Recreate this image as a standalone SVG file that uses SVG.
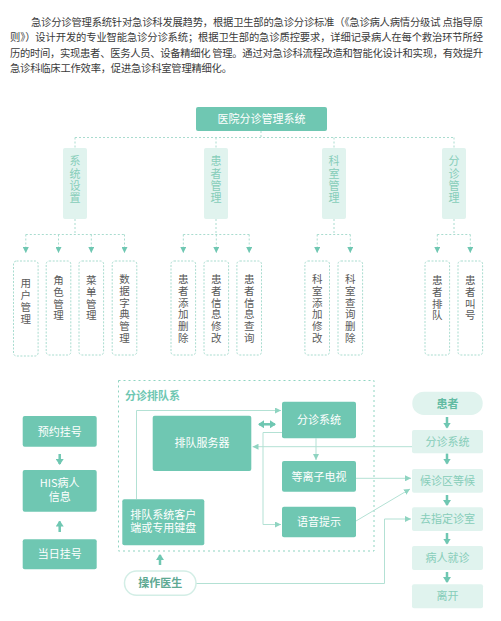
<svg xmlns="http://www.w3.org/2000/svg" width="501" height="621" viewBox="0 0 501 621">
<defs>
<style>
text{font-family:"Noto Sans CJK SC","Noto Sans",sans-serif;}
.intro{font-size:10.3px;fill:#3a3a3a;}
.dk rect{fill:#6fc7b2;}
.dk text{fill:#ffffff;font-size:11px;text-anchor:middle;}
.l2 rect{fill:#e0f3ee;}
.l2 text{fill:#86cdb9;font-size:11px;writing-mode:vertical-rl;letter-spacing:1.4px;}
.leaf rect{fill:#ffffff;stroke:#a9dccf;stroke-width:1;stroke-dasharray:2,1.5;}
.leaf text{fill:#5a5a5a;font-size:10.5px;writing-mode:vertical-rl;letter-spacing:1.3px;}
.lt rect{fill:#e0f3ee;}
.lt text{fill:#86cdb9;font-size:11px;text-anchor:middle;}
.tree{fill:none;stroke:#a9dccf;stroke-width:1;stroke-dasharray:2,2;}
.thin{fill:none;stroke:#b3e1d4;stroke-width:1;}
.thick{fill:none;stroke:#6fc7b2;stroke-width:2.5;}
</style>
<marker id="ah" markerUnits="userSpaceOnUse" markerWidth="6" markerHeight="6" refX="6" refY="3" orient="auto"><path d="M0,0 L6,3 L0,6 z" fill="#8fd4c1"/></marker>
<marker id="ta" markerUnits="userSpaceOnUse" markerWidth="6" markerHeight="6" refX="6" refY="3" orient="auto"><path d="M0,0 L6,3 L0,6 z" fill="#6fc7b2"/></marker>
<marker id="tk" markerUnits="userSpaceOnUse" markerWidth="6" markerHeight="8" refX="5" refY="4" orient="auto-start-reverse"><path d="M0,0 L6,4 L0,8 z" fill="#6fc7b2"/></marker>
</defs>

<g id="intro">
<text class="intro" x="31" y="25.5" textLength="452" lengthAdjust="spacing">急诊分诊管理系统针对急诊科发展趋势，根据卫生部的急诊分诊标准（《急诊病人病情分级试 点指导原</text>
<text class="intro" x="10" y="41" textLength="473" lengthAdjust="spacing">则》）设计开发的专业智能急诊分诊系统；根据卫生部的急诊质控要求，详细记录病人在每个救治环节所经</text>
<text class="intro" x="10" y="56.5" textLength="473" lengthAdjust="spacing">历的时间，实现患者、医务人员、设备精细化 管理。通过对急诊科流程改造和智能化设计和实现，有效提升</text>
<text class="intro" x="10" y="72" textLength="222" lengthAdjust="spacing">急诊科临床工作效率，促进急诊科室管理精细化。</text>
</g>

<g id="connectors">
<path class="tree" d="M261,131 V137.5 M75,137.5 H454 M75,137.5 V148 M216,137.5 V148 M334,137.5 V148 M454,137.5 V148"/>
<path class="tree" d="M75,219 V234.5 M216,219 V234.5 M334,219 V234.5 M454,219 V234.5"/>
<path class="tree" d="M25.8,234.5 H124.5 M183.3,234.5 H249.2 M317.2,234.5 H350.3 M437.3,234.5 H470.3"/>
<g class="tree" marker-end="url(#ta)">
<path d="M25.8,234.5 V253"/><path d="M58.5,234.5 V253"/><path d="M91.3,234.5 V253"/><path d="M124.5,234.5 V253"/>
<path d="M183.3,234.5 V253"/><path d="M216.3,234.5 V253"/><path d="M249.2,234.5 V253"/>
<path d="M317.2,234.5 V253"/><path d="M350.3,234.5 V253"/>
<path d="M437.3,234.5 V253"/><path d="M470.3,234.5 V253"/>
</g>
<rect x="118.5" y="380.5" width="255.5" height="170.5" fill="none" stroke="#8fd4c1" stroke-width="1" stroke-dasharray="2,3"/>
<g class="thin" marker-end="url(#ah)">
<path d="M136.5,499 V410.5 H281"/>
<path d="M282,432.5 H263 V524.5 H281"/>
<path d="M412,446.7 H252.5"/>
<path d="M316,438.3 V460"/>
<path d="M356,478.3 H411"/>
<path d="M356,521 L410,489"/>
<path d="M196,583.5 H384.5 V519 H411"/>
</g>
<g class="thick" marker-end="url(#tk)">
<path d="M59.7,454 V464"/>
<path d="M59.7,532 V521.5"/>
<path d="M160,565 V555"/>
<path d="M447,417 V427.5"/>
<path d="M447,453.5 V463.5"/>
<path d="M447,495 V505"/>
<path d="M447,533 V543.5"/>
<path d="M447,572 V582"/>
</g>
<path class="thick" d="M259,424.3 H275" marker-start="url(#tk)" marker-end="url(#tk)"/>
</g>

<g id="root" class="dk"><rect x="196" y="107" width="131" height="24" rx="2"/><text x="261.5" y="123">医院分诊管理系统</text></g>

<g id="n-xtsz" class="l2"><rect x="63" y="148" width="24" height="71" rx="2"/><text x="75" y="155.5">系统设置</text></g>
<g id="n-hzgl" class="l2"><rect x="204" y="148" width="24" height="71" rx="2"/><text x="216" y="155.5">患者管理</text></g>
<g id="n-ksgl" class="l2"><rect x="322" y="148" width="24" height="71" rx="2"/><text x="334" y="155.5">科室管理</text></g>
<g id="n-fzgl" class="l2"><rect x="442" y="148" width="24" height="71" rx="2"/><text x="454" y="155.5">分诊管理</text></g>

<g id="leaf-yhgl" class="leaf"><rect x="13.5" y="261" width="24.6" height="95" rx="3"/><text x="25.8" y="278">用户管理</text></g>
<g id="leaf-jsgl" class="leaf"><rect x="46.2" y="261" width="24.6" height="94" rx="3"/><text x="58.5" y="274.8">角色管理</text></g>
<g id="leaf-cdgl" class="leaf"><rect x="79" y="261" width="24.6" height="94" rx="3"/><text x="91.3" y="274.8">菜单管理</text></g>
<g id="leaf-sjzd" class="leaf"><rect x="112.2" y="261" width="24.6" height="94" rx="3"/><text x="124.5" y="273.8">数据字典管理</text></g>
<g id="leaf-hztj" class="leaf"><rect x="171" y="261" width="24.6" height="94" rx="3"/><text x="183.3" y="273.8">患者添加删除</text></g>
<g id="leaf-hzxg" class="leaf"><rect x="204" y="261" width="24.6" height="94" rx="3"/><text x="216.3" y="273.8">患者信息修改</text></g>
<g id="leaf-hzcx" class="leaf"><rect x="236.9" y="261" width="24.6" height="94" rx="3"/><text x="249.2" y="273.8">患者信息查询</text></g>
<g id="leaf-kstj" class="leaf"><rect x="304.9" y="261" width="24.6" height="94" rx="3"/><text x="317.2" y="273.8">科室添加修改</text></g>
<g id="leaf-kscx" class="leaf"><rect x="338" y="261" width="24.6" height="94" rx="3"/><text x="350.3" y="273.8">科室查询删除</text></g>
<g id="leaf-hzpd" class="leaf"><rect x="425" y="261" width="24.6" height="94" rx="3"/><text x="437.3" y="274.8">患者排队</text></g>
<g id="leaf-hzjh" class="leaf"><rect x="458" y="261" width="24.6" height="94" rx="3"/><text x="470.3" y="274.8">患者叫号</text></g>

<g id="label-fzpd"><text x="125" y="399.7" font-size="11" font-weight="bold" fill="#6fc7b2">分诊排队系</text></g>

<g id="yygh" class="dk"><rect x="22.7" y="416" width="74" height="30.7" rx="2"/><text x="59.7" y="435.5">预约挂号</text></g>
<g id="his" class="dk"><rect x="22.7" y="470" width="74" height="41.7" rx="2"/><text font-size="10"><tspan x="59.7" y="487">HIS病人</tspan><tspan x="59.7" y="500.8">信息</tspan></text></g>
<g id="drgh" class="dk"><rect x="22.7" y="539.3" width="74" height="30" rx="2"/><text x="59.7" y="558.3">当日挂号</text></g>

<g id="pdfwq" class="dk"><rect x="152.7" y="415.7" width="98.6" height="55.3" rx="2"/><text x="202" y="447.2">排队服务器</text></g>
<g id="fzxt-mid" class="dk"><rect x="282" y="401.7" width="74" height="36.6" rx="2"/><text x="319" y="424.2">分诊系统</text></g>
<g id="dlzds" class="dk"><rect x="282" y="461" width="74" height="30.7" rx="2"/><text x="319" y="480.5">等离子电视</text></g>
<g id="yyts" class="dk"><rect x="282" y="506.7" width="74" height="30.6" rx="2"/><text x="319" y="526.2">语音提示</text></g>
<g id="pdkhd" class="dk"><rect x="122.3" y="499.3" width="82" height="46" rx="2"/><text font-size="10"><tspan x="163.3" y="518.5">排队系统客户</tspan><tspan x="163.3" y="532.3">端或专用键盘</tspan></text></g>

<g id="czys"><rect x="124.5" y="571" width="71.5" height="24.3" rx="12" fill="#ffffff" stroke="#d3eee6" stroke-width="1.5"/><text x="160.2" y="587.3" font-size="11" font-weight="bold" fill="#5ea993" text-anchor="middle">操作医生</text></g>

<g id="hz"><rect x="412.3" y="391.7" width="70.4" height="23.3" rx="11.6" fill="#e0f3ee"/><text x="447.5" y="407.5" font-size="11" font-weight="bold" fill="#62bba3" text-anchor="middle">患者</text></g>
<g id="fzxt-r" class="lt"><rect x="412" y="430" width="71" height="23.3" rx="2"/><text x="447.5" y="445.9">分诊系统</text></g>
<g id="hzqdh" class="lt"><rect x="412" y="469" width="71" height="23.7" rx="2"/><text x="447.5" y="485">候诊区等候</text></g>
<g id="qzdzs" class="lt"><rect x="412" y="507.3" width="71" height="23.7" rx="2"/><text x="447.5" y="523.2">去指定诊室</text></g>
<g id="brjz" class="lt"><rect x="412" y="546" width="71" height="24" rx="2"/><text x="447.5" y="562.2">病人就诊</text></g>
<g id="lk" class="lt"><rect x="412" y="584.3" width="71" height="24" rx="2"/><text x="447.5" y="600.4">离开</text></g>
</svg>
